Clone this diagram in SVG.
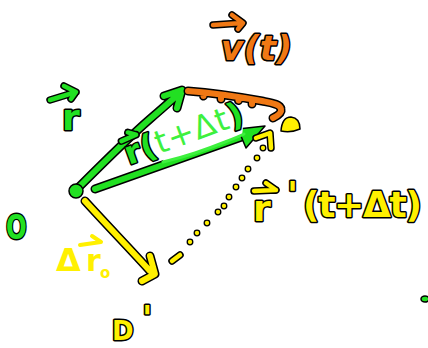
<svg xmlns="http://www.w3.org/2000/svg" width="428" height="348" viewBox="0 0 428 348">
<defs>
<style>
.k{fill:none;stroke:#000;stroke-width:9;stroke-linecap:round;stroke-linejoin:round}
.k2{fill:none;stroke:#000;stroke-width:7.5;stroke-linecap:round;stroke-linejoin:round}
.cg{fill:none;stroke:#22e022;stroke-width:6;stroke-linecap:round;stroke-linejoin:round}
.co{fill:none;stroke:#f07814;stroke-width:6;stroke-linecap:round;stroke-linejoin:round}
.cy{fill:none;stroke:#fff000;stroke-width:6;stroke-linecap:round;stroke-linejoin:round}
.cg2{fill:none;stroke:#22e022;stroke-width:4.5;stroke-linecap:round;stroke-linejoin:round}
.co2{fill:none;stroke:#f07814;stroke-width:4.5;stroke-linecap:round;stroke-linejoin:round}
.cy2{fill:none;stroke:#fff000;stroke-width:4.5;stroke-linecap:round;stroke-linejoin:round}
.tl{font-family:"DejaVu Sans",sans-serif;font-weight:bold;stroke:#000;stroke-width:3;paint-order:stroke;stroke-linejoin:round}
.fg{fill:#22e022}.fo{fill:#f07814}.fy{fill:#fff000}
.flg{fill:#3ef03e;stroke:none;font-weight:normal}
.py{font-family:"DejaVu Sans",sans-serif;font-weight:bold;fill:#fff000}
.dot{fill:#fff000;stroke:#000;stroke-width:1.3}
.blob{stroke:#000;stroke-width:1.5;stroke-linejoin:round}
</style>
<path id="g1" d="M77,189 C102,164 128,138 150,119 C164,107 174,98 182,91 M164,96 L182,90 L177,108"/>
<path id="g2" d="M95,189 L250,134"/>
<path id="or" d="M188,91 C215,93 240,97 262,101 C272,103 280,104 281,109 C282,113 277,116 273,118 M203,93 l0.5,3 M221,96 l0,3 M238,98 l0.5,2.5 M252,101 l0,3"/>
<path id="y1" d="M85,201 C105,223 130,249 150,271 M150,256 L155,274 L142,281"/>
<path id="yh" d="M256,138 L270,133 L271,148 M172,261 L180,255"/>
<path id="av" d="M213,25 L242,23 M232,15 L243,23 L238,29"/>
<path id="ar" d="M50,100 L76,92 M64,86 L76,92 L71,99"/>
<path id="ay" d="M254,191 L276,190 M266,183 L276,190"/>
<path id="ag" d="M1,-25 L17,-26 M10,-31 L17,-26"/>
</defs>
<rect width="428" height="348" fill="#fff"/>

<g id="connectors">
  <g id="arrow-r-t">
    <use href="#g1" class="k"/><use href="#g1" class="cg"/>
  </g>
  <g id="arrow-r-t-dt">
    <use href="#g2" class="k"/><use href="#g2" class="cg"/>
    <polygon class="blob" fill="#22e022" points="238,129 265,126 246,148"/>
  </g>
  <g id="arrow-v-t">
    <use href="#or" class="k"/><use href="#or" class="co"/>
  </g>
  <g id="arrow-dr0">
    <use href="#y1" class="k"/><use href="#y1" class="cy"/>
  </g>
  <g id="arrow-r-prime">
    <use href="#yh" class="k2"/><use href="#yh" class="cy2"/>
    <circle class="dot" cx="263" cy="148" r="2.8"/>
    <circle class="dot" cx="257" cy="158" r="2.8"/>
    <circle class="dot" cx="248" cy="169" r="2.8"/>
    <circle class="dot" cx="242" cy="178" r="2.8"/>
    <circle class="dot" cx="236" cy="187" r="2.8"/>
    <circle class="dot" cx="229" cy="197" r="2.8"/>
    <circle class="dot" cx="224" cy="206" r="2.8"/>
    <circle class="dot" cx="218" cy="212" r="2.8"/>
    <circle class="dot" cx="207" cy="223" r="2.8"/>
    <circle class="dot" cx="197" cy="233" r="2.8"/>
    <circle class="dot" cx="190" cy="242" r="2.8"/>
  </g>
</g>

<g id="origin-point">
  <circle class="blob" fill="#22e022" cx="76" cy="191" r="7"/>
</g>
<g id="point-P">
  <path class="blob" fill="#fff000" d="M281,131 Q282,117 291,117 Q300,118 300,129 Q291,133 281,131 Z"/>
</g>
<g id="edge-dot">
  <ellipse class="blob" fill="#22e022" cx="425" cy="299" rx="4" ry="3"/>
</g>

<g id="label-v-t">
  <use href="#av" class="k2"/><use href="#av" class="co2"/>
  <text class="tl fo" x="221" y="60" font-size="34" font-style="italic" textLength="71">v(t)</text>
</g>
<g id="label-r">
  <use href="#ar" class="k2"/><use href="#ar" class="cg2"/>
  <text class="tl fg" x="62" y="130" font-size="36">r</text>
</g>
<g id="label-O">
  <text class="tl fg" font-size="33" transform="translate(6,239) scale(0.74,1)">O</text>
</g>
<g id="label-r-t-dt">
  <path fill="#fff" d="M163,163 L200,150.5 L242,136 L244,118 L165,140 Z"/>
  <path fill="none" stroke="#3ef03e" stroke-width="3" stroke-linecap="round" d="M163,162 Q180,158 195,153 T225,142 T244,134"/>
  <g transform="translate(129,165) rotate(-20)">
    <use href="#ag" class="k2"/><use href="#ag" class="cg2"/>
    <text class="tl" x="0" y="0" font-size="32" textLength="124"><tspan class="fg">r(</tspan><tspan class="flg">t+Δt</tspan><tspan class="fg">)</tspan></text>
  </g>
</g>
<g id="label-r-prime">
  <use href="#ay" class="k2"/><use href="#ay" class="cy2"/>
  <text class="tl fy" x="253" y="221" font-size="36">r</text>
  <text class="tl fy" x="287" y="207" font-size="36">'</text>
  <text class="tl fy" x="303" y="217" font-size="36" textLength="119">(t+Δt)</text>
</g>
<g id="label-dr0">
  <path fill="none" stroke="#fff000" stroke-width="4" stroke-linecap="round" d="M80,245 L101,242 M92,236 L101,242"/>
  <text class="py" x="56" y="271" font-size="32">Δ</text>
  <text class="py" x="86" y="271" font-size="30">r</text>
  <text class="py" x="100" y="278" font-size="15">o</text>
</g>
<g id="label-D">
  <text class="tl fy" x="112" y="340" font-size="26">D</text>
  <text class="tl fy" x="142" y="330" font-size="34">'</text>
</g>
</svg>
